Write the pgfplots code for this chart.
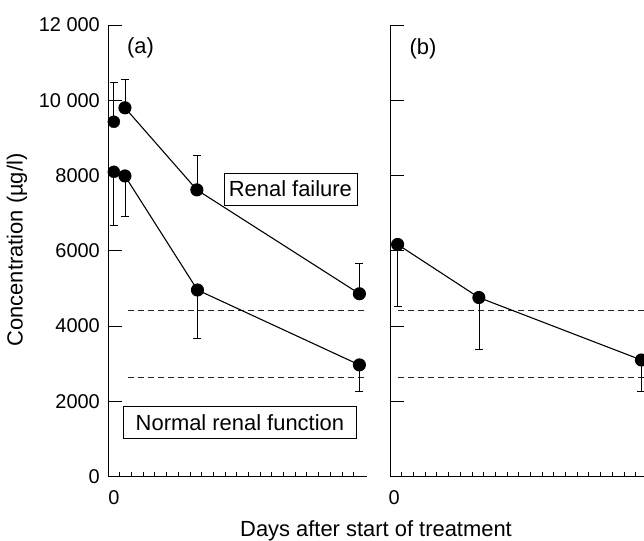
\documentclass[border=0pt]{standalone}
\usepackage{pgfplots}
\pgfplotsset{compat=1.18}
\usepackage{fontspec}
\setmainfont{Liberation Sans}

\pgfplotsset{
  panel/.style={
    scale only axis, width=259bp, height=451.7bp,
    xmin=0, xmax=22.15, ymin=0, ymax=12000,
    scaled y ticks=false, scaled x ticks=false,
    axis lines=left, axis line style={-, line width=0.8pt},
    tick align=inside,
    major tick length=14bp, minor tick length=5bp,
    every tick/.style={black, line width=0.7pt},
    every major x tick/.append style={draw=none},
    minor xtick={1,...,21},
    ytick={0,2000,4000,6000,8000,10000,12000},
    tick label style={font=\fontsize{20}{24}\selectfont, inner sep=0pt},
    yticklabel style={xshift=-8bp},
    xticklabel style={yshift=-14bp},
    clip=false,
  },
  eb/.style={error bars/.cd, y explicit, y dir=#1,
    error bar style={line width=0.7pt, black},
    error mark options={line width=0.7pt, mark size=4bp, black, rotate=90}},
}

\begin{document}
\begin{tikzpicture}
\path[use as bounding box] (0bp,0bp) rectangle (644bp,541bp);

% ---------------- panel (a)
\begin{axis}[panel, at={(108bp,64.3bp)}, anchor=south west,
  yticklabels={0,2000,4000,6000,8000,10 000,12 000},
  xtick={0.5}, xticklabels={0}]
\addplot[black!85, dash pattern=on 6bp off 4bp, line width=0.7pt] coordinates {(1.7,4430) (22.15,4430)};
\addplot[black!85, dash pattern=on 6bp off 4bp, line width=0.7pt] coordinates {(1.7,2640) (22.15,2640)};
% renal failure
\addplot[only marks, black, mark=*, mark size=6bp, eb=plus] table[x=x, y=y, y error=e] {
x y e
0.5 9430 1040
};
\addplot[black, line width=1.1pt, mark=*, mark size=6bp, eb=plus] table[x=x, y=y, y error=e] {
x y e
1.45 9800 750
7.6 7620 930
21.5 4860 810
};
% normal renal function
\addplot[only marks, black, mark=*, mark size=6bp, eb=minus] table[x=x, y=y, y error=e] {
x y e
0.5 8100 1430
};
\addplot[black, line width=1.1pt, mark=*, mark size=6bp, eb=minus] table[x=x, y=y, y error=e] {
x y e
1.45 7990 1080
7.65 4960 1280
21.5 2970 710
};
\node[font=\fontsize{22}{26}\selectfont] at (axis cs:2.78,11400) {(a)};
\node[draw, line width=0.7pt, minimum width=133bp, minimum height=32bp, inner sep=0pt,
  font=\fontsize{22}{26}\selectfont] at (axis cs:15.6,7640) {Renal failure};
\node[draw, line width=0.7pt, minimum width=233bp, minimum height=32bp, inner sep=0pt,
  font=\fontsize{22}{26}\selectfont] at (axis cs:11.28,1440) {Normal renal function};
\end{axis}

% ---------------- panel (b)
\begin{axis}[panel, at={(390bp,64.3bp)}, anchor=south west,
  yticklabels={},
  xtick={0.35}, xticklabels={0}]
\addplot[black!85, dash pattern=on 6bp off 4bp, line width=0.7pt] coordinates {(0.7,4430) (22.15,4430)};
\addplot[black!85, dash pattern=on 6bp off 4bp, line width=0.7pt] coordinates {(0.7,2640) (22.15,2640)};
\addplot[black, line width=1.1pt, mark=*, mark size=6bp, eb=minus] table[x=x, y=y, y error=e] {
x y e
0.65 6170 1640
7.6 4760 1390
21.5 3100 820
};
\node[font=\fontsize{22}{26}\selectfont] at (axis cs:2.82,11370) {(b)};
\end{axis}

\node[rotate=90, font=\fontsize{22}{26}\selectfont] at (17bp,291bp) {Concentration (µg/l)};
\node[font=\fontsize{22}{26}\selectfont] at (376bp,10bp) {Days after start of treatment};
\end{tikzpicture}
\end{document}
